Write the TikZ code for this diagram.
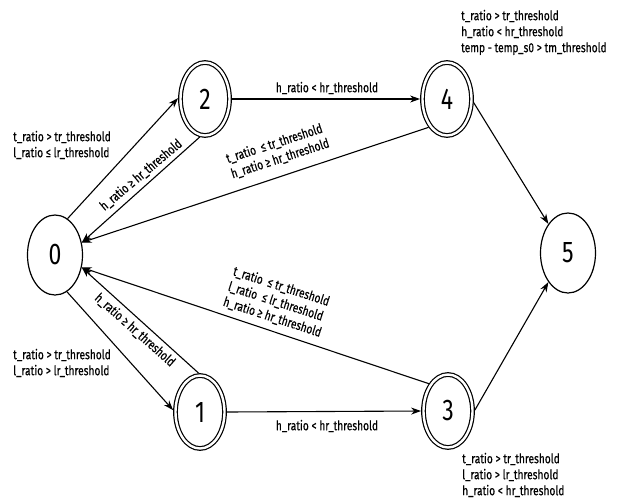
\documentclass[tikz,border=0pt]{standalone}
\usepackage{fontspec}
\setmainfont{Fira Sans}
\newfontfamily\lblfont{Fira Sans}[FakeBold=0.5]
\usetikzlibrary{shapes.geometric,arrows.meta}
\newcommand\stx[1]{\scalebox{1}[1.3]{#1}}
\newcommand\lns[1]{\stx{\begin{tabular}{@{}l@{}}#1\end{tabular}}}
\begin{document}
\begin{tikzpicture}[x=1pt,y=1pt,
  state/.style={ellipse, draw, line width=1.2pt, minimum width=55pt, minimum height=80pt, inner sep=0pt, font=\fontsize{23}{26}\selectfont},
  accept/.style={state, double, double distance=2.4pt, minimum width=49pt, minimum height=73pt, outer sep=2.4pt},
  lbl/.style={font=\lblfont\fontsize{10.2}{12.3}\selectfont, inner sep=1pt, align=left},
  arr/.style={line width=1.1pt, -{Stealth[length=10pt,width=7pt]}},
]
\useasboundingbox (0,0) rectangle (619,-499);
\node[state]  (n0) at (55,-255) {\stx{0}};
\node[accept] (n2) at (205,-99) {\stx{2}};
\node[accept] (n4) at (447,-99) {\stx{4}};
\node[state]  (n5) at (568,-253) {\stx{5}};
\node[accept] (n3) at (448,-411) {\stx{3}};
\node[accept] (n1) at (200,-412) {\stx{1}};

\draw[arr] (n0.71) -- (n2.178);
\draw[arr] (n2.262) -- (n0.25);
\draw[arr] (n4.237) -- (n0.25);
\draw[arr] (n0.-72) -- (n1.176);
\draw[arr] (n1.92) -- (n0.-25);
\draw[arr] (n3.125) -- (n0.-25);
\draw[arr] (n2.0) -- (n4.180);
\draw[arr] (n1.0) -- (n3.180);
\draw[arr] (n4.-8) -- (n5.124);
\draw[arr] (n3.2) -- (n5.236);

\node[lbl, anchor=west] (l02) at (12,-146) {\lns{t\_ratio > tr\_threshold\\l\_ratio ≤ lr\_threshold}};
\node[lbl, anchor=west] (l01) at (12,-364) {\lns{t\_ratio > tr\_threshold\\l\_ratio > lr\_threshold}};
\node[lbl, anchor=west] (l4) at (460,-33) {\lns{t\_ratio > tr\_threshold\\h\_ratio < hr\_threshold\\temp - temp\_s0 > tm\_threshold}};
\node[lbl, anchor=west] (l3) at (461,-476) {\lns{t\_ratio > tr\_threshold\\l\_ratio > lr\_threshold\\h\_ratio < hr\_threshold}};
\node[lbl] (l24) at (327,-88) {\stx{h\_ratio < hr\_threshold}};
\node[lbl] (l13) at (327,-426) {\stx{h\_ratio < hr\_threshold}};
\node[lbl, rotate=40] (l20) at (141,-175) {\stx{h\_ratio ≥ hr\_threshold}};
\node[lbl, rotate=-41.6] (l10) at (135,-330) {\stx{h\_ratio ≥ hr\_threshold}};
\node[lbl, rotate=18] (l40) at (278,-152) {\lns{t\_ratio\ \ ≤ tr\_threshold\\h\_ratio ≥ hr\_threshold}};
\node[lbl, rotate=-18] (l30) at (277,-303) {\lns{t\_ratio\ \ ≤ tr\_threshold\\l\_ratio\ \ ≤ lr\_threshold\\h\_ratio ≥ hr\_threshold}};
\end{tikzpicture}
\end{document}
